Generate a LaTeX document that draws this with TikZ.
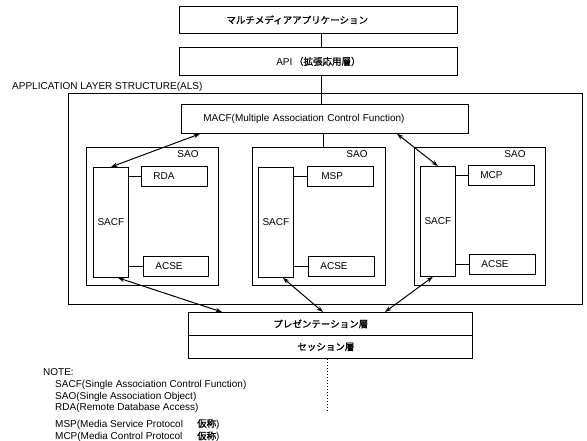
\documentclass[tikz,border=0pt]{standalone}
\usepackage{fontspec}
\setmainfont{Liberation Sans}
\newfontfamily\jp{Noto Sans CJK JP}[FakeBold=1.2]
\usetikzlibrary{arrows.meta}
\tikzset{
  bx/.style={draw, line width=0.8pt, rectangle, inner sep=0pt, anchor=north west,
             font=\fontsize{10}{12}\selectfont},
  lbx/.style={bx, inner xsep=12pt, align=left},
  txt/.style={inner sep=0pt, font=\fontsize{10}{12}\selectfont},
  jpt/.style={font=\jp\fontsize{9.5}{11}\selectfont},
  arr/.style={{Stealth[length=6.5pt,width=4.5pt]}-{Stealth[length=6.5pt,width=4.5pt]}, line width=1pt},
  thin/.style={line width=0.8pt}
}
\begin{document}
\begin{tikzpicture}[x=1pt,y=-1pt]
\path[use as bounding box] (0,0) rectangle (587,441);
% top boxes
\node[bx, jpt, minimum width=278pt, minimum height=27pt, inner xsep=47pt, text width=184pt, align=left] (top) at (179,6) {マルチメディアアプリケーション};
\node[bx, minimum width=278pt, minimum height=28pt] (api) at (179,47) {API\,{\jp\fontsize{9.5}{11}\selectfont （拡張応用層）}};
% ALS
\node[txt, anchor=base west] (alslab) at (12,90) {APPLICATION LAYER STRUCTURE(ALS)};
\node[bx, minimum width=514pt, minimum height=211pt] (als) at (68,93) {};
\node[bx, minimum width=287pt, minimum height=29pt, inner xsep=22pt, text width=243pt, align=left] (macf) at (181,104) {MACF(Multiple Association Control Function)};
% SAO boxes
\node[bx, minimum width=132pt, minimum height=138pt] (sao1) at (86,147) {};
\node[bx, minimum width=133pt, minimum height=138pt] (sao2) at (252,147) {};
\node[bx, minimum width=131pt, minimum height=138pt] (sao3) at (414,147) {};
\node[txt, anchor=north east] (saol1) at ([xshift=-20pt,yshift=-3pt]sao1.north east) {SAO};
\node[txt, anchor=north east] (saol2) at ([xshift=-18pt,yshift=-3pt]sao2.north east) {SAO};
\node[txt, anchor=north east] (saol3) at ([xshift=-20pt,yshift=-3pt]sao3.north east) {SAO};
% SACF
\node[bx, minimum width=35pt, minimum height=110pt] (sacf1) at (93,167) {SACF};
\node[bx, minimum width=35pt, minimum height=110pt] (sacf2) at (258,167) {SACF};
\node[bx, minimum width=35pt, minimum height=110pt] (sacf3) at (420,166) {SACF};
% function boxes
\node[lbx, text width=42pt, minimum height=20pt] (rda) at (141,166) {RDA};
\node[lbx, minimum height=20pt, inner xsep=14pt, text width=38pt] (msp) at (307,166) {MSP};
\node[lbx, text width=42pt, minimum height=20pt] (mcp) at (468,165) {MCP};
\node[lbx, text width=41pt, minimum height=20pt] (acse1) at (143,256) {ACSE};
\node[lbx, text width=42pt, minimum height=20pt] (acse2) at (308,256) {ACSE};
\node[lbx, text width=42pt, minimum height=20pt] (acse3) at (469,254) {ACSE};
% presentation / session
\node[bx, jpt, minimum width=284pt, minimum height=23pt, inner xsep=85pt, text width=114pt, align=left] (pres) at (188,312) {プレゼンテーション層};
\node[bx, jpt, minimum width=284pt, minimum height=23pt, inner xsep=109pt, text width=66pt, align=left] (sess) at (188,335) {セッション層};
% coordinates
\coordinate (vx) at (321,0);
\coordinate (vy) at (323,0);
\coordinate (dotend) at (327,410);
% plain connectors
\draw[thin] (top.south -| vx) -- (api.north -| vx);
\draw[thin] (api.south -| vx) -- (macf.north -| vx);
\draw[thin] (macf.south -| vy) -- (sao2.north -| vy);
\draw[thin] (sacf1.east |- rda.west) -- (rda.west);
\draw[thin] (sacf2.east |- msp.west) -- (msp.west);
\draw[thin] (sacf3.east |- mcp.west) -- (mcp.west);
\draw[thin] (sacf1.east |- acse1.west) -- (acse1.west);
\draw[thin] (sacf2.east |- acse2.west) -- (acse2.west);
\draw[thin] (sacf3.east |- acse3.west) -- (acse3.west);
\draw[dotted, line width=1pt] (sess.south -| dotend) -- (dotend);
% arrows
\draw[arr] ([xshift=19pt]macf.south west) -- (sacf1.north);
\draw[arr] ([xshift=216pt]macf.south west) -- (sacf3.north);
\draw[arr] ([xshift=7pt]sacf1.south) -- ([xshift=34pt]pres.north west);
\draw[arr] ([xshift=7pt]sacf2.south) -- ([xshift=135pt]pres.north west);
\draw[arr] ([xshift=-5pt]sacf3.south) -- ([xshift=197pt]pres.north west);
% notes
\node[txt, anchor=base west] (note) at (43,375) {NOTE:};
\node[txt, anchor=base west] (n1) at (55,387) {SACF(Single Association Control Function)};
\node[txt, anchor=base west] (n2) at (55,399) {SAO(Single Association Object)};
\node[txt, anchor=base west] (n3) at (55,410) {RDA(Remote Database Access)};
\node[txt, anchor=base west] (n4) at (55,427) {\makebox[142pt][l]{MSP(Media Service Protocol}{\jp\fontsize{9.5}{11}\selectfont 仮称})};
\node[txt, anchor=base west] (n5) at (55,439.5) {\makebox[142pt][l]{MCP(Media Control Protocol}{\jp\fontsize{9.5}{11}\selectfont 仮称})};
\end{tikzpicture}
\end{document}
